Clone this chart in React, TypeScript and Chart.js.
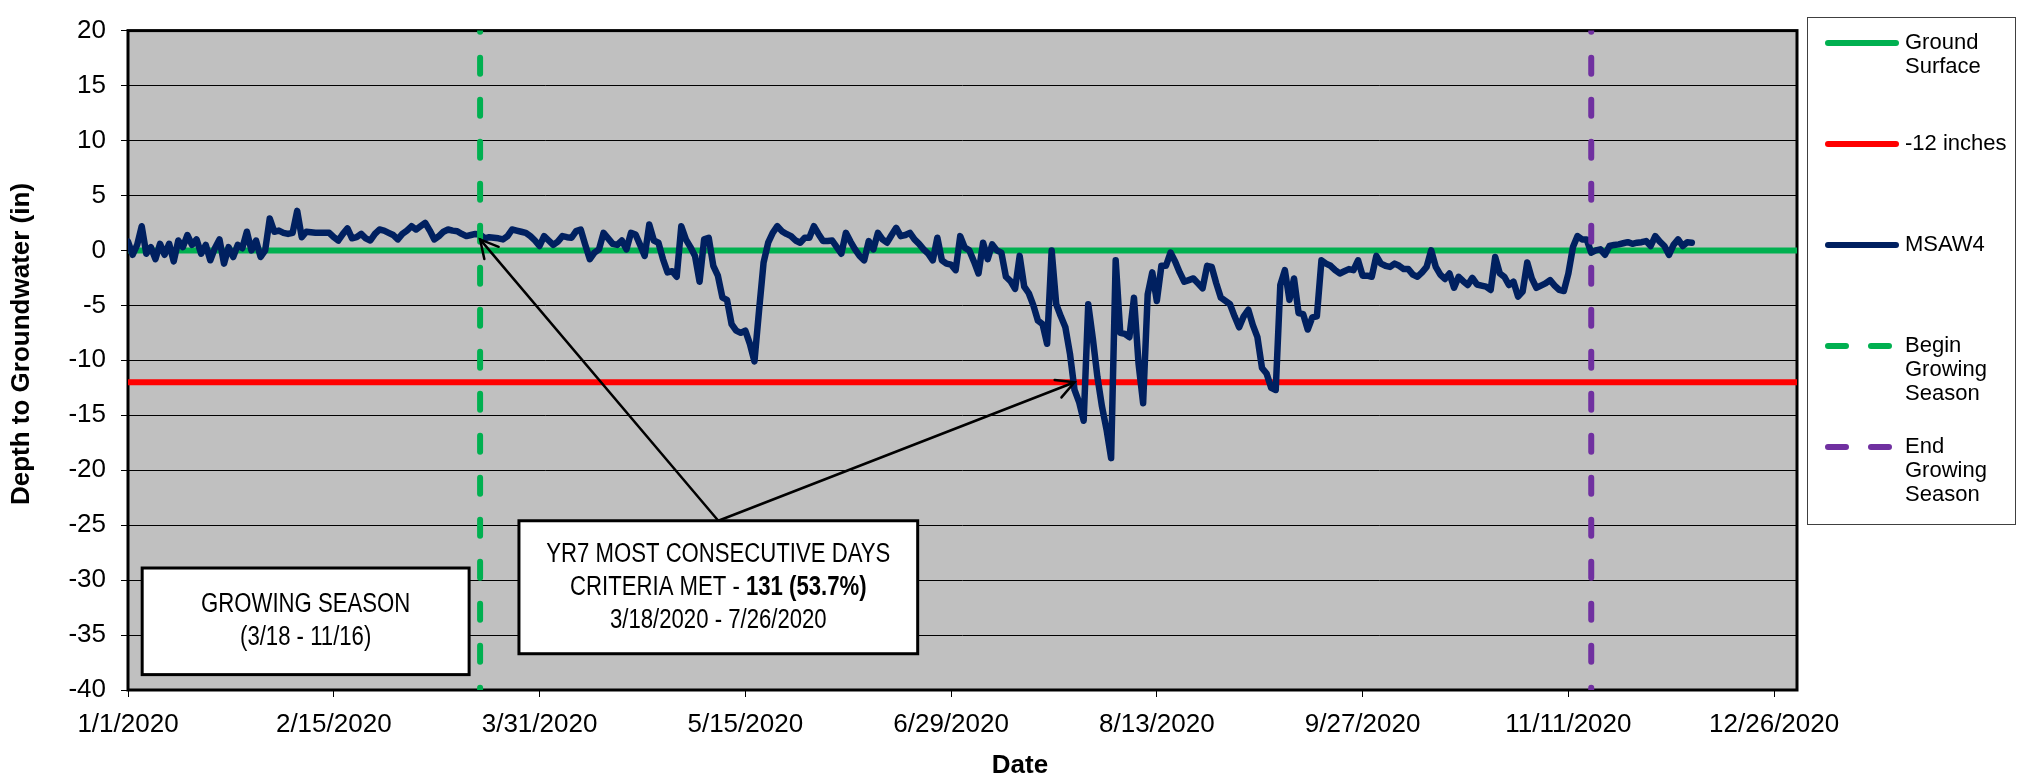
import React, { useEffect, useRef } from "react";
import { Chart, registerables } from "chart.js";

Chart.register(...registerables);

// ---------- data ----------
const xTickLabels = [
  "1/1/2020", "2/15/2020", "3/31/2020", "5/15/2020", "6/29/2020",
  "8/13/2020", "9/27/2020", "11/11/2020", "12/26/2020",
];
const xAxisStart = "1/1/2020";
const xAxisEnd = "12/31/2020";
const yMin = -40;
const yMax = 20;
const yStep = 5;

const groundSurface = 0;
const criteriaDepth = -12;
const growingSeasonBegin = "3/18/2020";
const growingSeasonEnd = "11/16/2020";

// MSAW4 daily depth to groundwater (in), starting 1/1/2020
const msawStart = "1/1/2020";
const msawValues = [
  0.8, -0.4, 0.5, 2.2, -0.3, 0.3, -0.8, 0.6, -0.4, 0.6,
  -1.0, 0.9, 0.3, 1.4, 0.5, 1.0, -0.3, 0.5, -0.9, 0.2,
  1.0, -1.2, 0.3, -0.6, 0.5, 0.2, 1.7, 0.0, 0.9, -0.6,
  0.0, 2.9, 1.7, 1.8, 1.6, 1.5, 1.6, 3.6, 1.2, 1.7,
  1.65, 1.6, 1.6, 1.6, 1.6, 1.2, 0.9, 1.5, 2.0, 1.1,
  1.2, 1.5, 1.1, 0.9, 1.5, 1.9, 1.8, 1.6, 1.4, 1.0,
  1.5, 1.8, 2.2, 1.9, 2.2, 2.5, 1.8, 1.0, 1.3, 1.7,
  1.9, 1.8, 1.75, 1.5, 1.3, 1.4, 1.5, 1.45, 1.1, 1.2,
  1.15, 1.1, 1.0, 1.3, 1.9, 1.8, 1.7, 1.6, 1.3, 0.9,
  0.4, 1.3, 0.9, 0.5, 0.8, 1.3, 1.2, 1.15, 1.75, 1.9,
  0.5, -0.8, -0.2, 0.1, 1.6, 1.1, 0.6, 0.5, 0.9, 0.1,
  1.6, 1.45, 0.5, -0.5, 2.35, 0.9, 0.7, -0.8, -2.0, -1.9,
  -2.4, 2.2, 1.0, 0.3, -0.5, -2.85, 1.0, 1.15, -1.4, -2.3,
  -4.3, -4.5, -6.7, -7.3, -7.5, -7.3, -8.5, -10.1, -5.5, -1.1,
  0.7, 1.6, 2.2, 1.75, 1.5, 1.3, 0.9, 0.7, 1.15, 1.15,
  2.2, 1.5, 0.85, 0.85, 0.9, 0.3, -0.3, 1.6, 0.8, 0.1,
  -0.5, -0.9, 0.85, 0.1, 1.6, 1.0, 0.7, 1.4, 2.05, 1.3,
  1.4, 1.6, 1.0, 0.6, 0.1, -0.3, -0.9, 1.15, -0.9, -1.2,
  -1.3, -1.8, 1.3, 0.25, 0.0, -1.0, -2.1, 0.7, -0.8, 0.55,
  0.0, -0.2, -2.4, -2.8, -3.5, -0.5, -3.3, -3.9, -5.0, -6.4,
  -6.7, -8.5, 0.0, -4.9, -6.0, -7.0, -9.4, -12.7, -13.8, -15.5,
  -4.9, -8.0, -11.5, -14.2, -16.3, -18.9, -0.9, -7.5, -7.6, -7.9,
  -4.3, -10.3, -13.9, -4.0, -2.0, -4.6, -1.4, -1.4, -0.2, -1.0,
  -2.0, -2.85, -2.7, -2.55, -3.0, -3.45, -1.4, -1.5, -3.0, -4.3,
  -4.6, -4.9, -6.0, -7.0, -6.0, -5.4, -6.8, -7.9, -10.7, -11.2,
  -12.5, -12.7, -3.15, -1.8, -4.5, -2.55, -5.7, -5.8, -7.2, -6.1,
  -6.0, -0.9, -1.2, -1.4, -1.8, -2.1, -1.9, -1.7, -1.8, -0.9,
  -2.3, -2.3, -2.4, -0.5, -1.2, -1.4, -1.5, -1.2, -1.4, -1.7,
  -1.7, -2.2, -2.4, -2.0, -1.5, 0.0, -1.5, -2.2, -2.6, -2.1,
  -3.4, -2.4, -2.8, -3.15, -2.5, -3.1, -3.2, -3.3, -3.6, -0.6,
  -2.1, -2.4, -3.15, -2.85, -4.2, -3.75, -1.1, -2.55, -3.4, -3.2,
  -3.0, -2.7, -3.2, -3.6, -3.7, -2.1, 0.3, 1.3, 1.0, 1.0,
  -0.2, 0.0, 0.1, -0.4, 0.4, 0.5, 0.55, 0.65, 0.75, 0.6,
  0.7, 0.75, 0.85, 0.4, 1.3, 0.8, 0.4, -0.4, 0.5, 1.0,
  0.4, 0.75, 0.7,
];

const seriesLabels = ["Ground Surface", "-12 inches", "MSAW4", "Begin Growing Season", "End Growing Season"];
const legendLines = [["Ground", "Surface"], ["-12 inches"], ["MSAW4"], ["Begin", "Growing", "Season"], ["End", "Growing", "Season"]];

const box1Lines = ["GROWING SEASON", "(3/18 - 11/16)"];
const box2Line1 = "YR7 MOST CONSECUTIVE DAYS";
const box2Line2Normal = "CRITERIA MET - ";
const box2Line2Bold = "131 (53.7%)";
const box2Line3 = "3/18/2020 - 7/26/2020";
const arrowTargets: [string, number][] = [["3/18/2020", 1.0], ["7/26/2020", -12]];

const yTitle = "Depth to Groundwater (in)";
const xTitle = "Date";

// ---------- styling / layout ----------
const GREEN = "#00B050";
const RED = "#FF0000";
const NAVY = "#002060";
const PURPLE = "#7030A0";
const PLOT_BG = "#C0C0C0";
const FONT = 'Arial, "Liberation Sans", sans-serif';

// annotation box extents in (day, value) space
const box1Pos = { x0: 3.1, x1: 74.6, y0: -28.9, y1: -38.6 };
const box2Pos = { x0: 85.5, x1: 172.7, y0: -24.6, y1: -36.7 };

function dayOf(s: string): number {
  const [m, d, y] = s.split("/").map(Number);
  return (Date.UTC(y, m - 1, d) - Date.UTC(2020, 0, 1)) / 86400000;
}

const xMinDay = dayOf(xAxisStart);
const xMaxDay = dayOf(xAxisEnd);
const xTickDays = xTickLabels.map(dayOf);
const msawStartDay = dayOf(msawStart);
const beginDay = dayOf(growingSeasonBegin);
const endDay = dayOf(growingSeasonEnd);

function fontAvailable(ctx: CanvasRenderingContext2D, family: string) {
  const sample = "GROWING SEASON wmil 0123";
  ctx.font = "40px monospace";
  const a = ctx.measureText(sample).width;
  ctx.font = `40px "${family}", monospace`;
  const b = ctx.measureText(sample).width;
  return Math.abs(a - b) > 0.5;
}

const decorPlugin = {
  id: "decor",
  beforeDraw(chart: any) {
    const { ctx, chartArea: a } = chart;
    ctx.save();
    ctx.fillStyle = "#FFFFFF";
    ctx.fillRect(0, 0, chart.width, chart.height);
    ctx.fillStyle = PLOT_BG;
    ctx.fillRect(a.left, a.top, a.right - a.left, a.bottom - a.top);
    ctx.restore();
  },
  beforeDatasetsDraw(chart: any) {
    const { ctx, chartArea: a } = chart;
    ctx.save();
    ctx.strokeStyle = "#000";
    ctx.lineWidth = 3;
    ctx.strokeRect(a.left, a.top, a.right - a.left, a.bottom - a.top);
    ctx.restore();
  },
  afterDraw(chart: any) {
    const { ctx } = chart;
    const xs = chart.scales.x;
    const ys = chart.scales.y;
    const px = (d: number) => xs.getPixelForValue(d);
    const py = (v: number) => ys.getPixelForValue(v);

    // ---- arrows ----
    const ox = px((box2Pos.x0 + box2Pos.x1) / 2);
    const oy = py(box2Pos.y0);
    ctx.save();
    ctx.strokeStyle = "#000";
    ctx.lineWidth = 2.5;
    ctx.lineCap = "round";
    for (const [dStr, val] of arrowTargets) {
      const tx = px(dayOf(dStr));
      const ty = py(val);
      ctx.beginPath();
      ctx.moveTo(ox, oy);
      ctx.lineTo(tx, ty);
      ctx.stroke();
      const ang = Math.atan2(oy - ty, ox - tx);
      const len = 20;
      const spread = (28 * Math.PI) / 180;
      ctx.beginPath();
      ctx.moveTo(tx + len * Math.cos(ang + spread), ty + len * Math.sin(ang + spread));
      ctx.lineTo(tx, ty);
      ctx.lineTo(tx + len * Math.cos(ang - spread), ty + len * Math.sin(ang - spread));
      ctx.stroke();
    }
    ctx.restore();

    // ---- annotation boxes ----
    const narrow = fontAvailable(ctx, "Liberation Sans Narrow");
    const boxFamily = narrow ? '"Liberation Sans Narrow", "Liberation Sans", sans-serif' : FONT;
    const sx = narrow ? 1 : 0.82;
    const drawBox = (p: any) => {
      const l = px(p.x0), r = px(p.x1), t = py(p.y0), b = py(p.y1);
      ctx.save();
      ctx.fillStyle = "#FFFFFF";
      ctx.fillRect(l, t, r - l, b - t);
      ctx.strokeStyle = "#000";
      ctx.lineWidth = 3;
      ctx.strokeRect(l, t, r - l, b - t);
      ctx.restore();
      return { l, r, t, b, cx: (l + r) / 2, cy: (t + b) / 2 };
    };
    const drawCentered = (parts: [string, boolean][], cx: number, cy: number) => {
      ctx.save();
      ctx.translate(cx, cy);
      ctx.scale(sx, 1);
      ctx.textBaseline = "middle";
      ctx.textAlign = "left";
      ctx.fillStyle = "#000";
      let total = 0;
      const widths = parts.map(([txt, bold]) => {
        ctx.font = `${bold ? "bold " : ""}27px ${boxFamily}`;
        const w = ctx.measureText(txt).width;
        total += w;
        return w;
      });
      let x = -total / 2;
      parts.forEach(([txt, bold], i) => {
        ctx.font = `${bold ? "bold " : ""}27px ${boxFamily}`;
        ctx.fillText(txt, x, 0);
        x += widths[i];
      });
      ctx.restore();
    };
    const b1 = drawBox(box1Pos);
    const lh = 33;
    box1Lines.forEach((ln, i) => drawCentered([[ln, false]], b1.cx, b1.cy + (i - (box1Lines.length - 1) / 2) * lh));
    const b2 = drawBox(box2Pos);
    drawCentered([[box2Line1, false]], b2.cx, b2.cy - lh);
    drawCentered([[box2Line2Normal, false], [box2Line2Bold, true]], b2.cx, b2.cy);
    drawCentered([[box2Line3, false]], b2.cx, b2.cy + lh);

    // ---- legend ----
    const lg = { l: 1807, t: 17, r: 2015, b: 524 };
    ctx.save();
    ctx.fillStyle = "#FFFFFF";
    ctx.fillRect(lg.l, lg.t, lg.r - lg.l, lg.b - lg.t);
    ctx.strokeStyle = "#404040";
    ctx.lineWidth = 1;
    ctx.strokeRect(lg.l + 0.5, lg.t + 0.5, lg.r - lg.l, lg.b - lg.t);
    const colors = [GREEN, RED, NAVY, GREEN, PURPLE];
    const dashed = [false, false, false, true, true];
    legendLines.forEach((lines, i) => {
      const y = lg.t + 26 + i * 101;
      ctx.strokeStyle = colors[i];
      ctx.lineWidth = 6;
      ctx.lineCap = "round";
      if (dashed[i]) {
        ctx.beginPath();
        ctx.moveTo(1828, y);
        ctx.lineTo(1846, y);
        ctx.moveTo(1871, y);
        ctx.lineTo(1889, y);
        ctx.stroke();
      } else {
        ctx.beginPath();
        ctx.moveTo(1828, y);
        ctx.lineTo(1896, y);
        ctx.stroke();
      }
      ctx.fillStyle = "#000";
      ctx.font = `22px ${FONT}`;
      ctx.textAlign = "left";
      ctx.textBaseline = "middle";
      lines.forEach((t, j) => ctx.fillText(t, 1905, y + j * 24));
    });
    ctx.restore();

    // ---- axis titles ----
    ctx.save();
    ctx.fillStyle = "#000";
    ctx.font = `bold 26px ${FONT}`;
    ctx.textAlign = "center";
    ctx.textBaseline = "middle";
    ctx.fillText(xTitle, 1020, 766);
    ctx.translate(22, 344);
    ctx.rotate(-Math.PI / 2);
    ctx.fillText(yTitle, 0, 0);
    ctx.restore();
  },
};

export default function App() {
  const ref = useRef<HTMLCanvasElement | null>(null);

  useEffect(() => {
    if (!ref.current) return;
    Chart.defaults.font.family = FONT;
    const lineBase = { pointRadius: 0, borderWidth: 6, fill: false, tension: 0 };
    const chart = new Chart(ref.current, {
      type: "line",
      data: {
        datasets: [
          {
            ...lineBase,
            label: seriesLabels[0],
            data: [{ x: xMinDay, y: groundSurface }, { x: xMaxDay, y: groundSurface }],
            borderColor: GREEN,
            order: 4,
          },
          {
            ...lineBase,
            label: seriesLabels[1],
            data: [{ x: xMinDay, y: criteriaDepth }, { x: xMaxDay, y: criteriaDepth }],
            borderColor: RED,
            order: 3,
          },
          {
            ...lineBase,
            label: seriesLabels[2],
            data: msawValues.map((v, i) => ({ x: msawStartDay + i, y: v })),
            borderColor: NAVY,
            borderWidth: 6.5,
            borderJoinStyle: "round",
            borderCapStyle: "round",
            order: 2,
          },
          {
            ...lineBase,
            label: seriesLabels[3],
            data: [{ x: beginDay, y: yMax }, { x: beginDay, y: yMin }],
            borderColor: GREEN,
            borderDash: [16, 26],
            borderDashOffset: 14.8,
            borderCapStyle: "round",
            order: 1,
          },
          {
            ...lineBase,
            label: seriesLabels[4],
            data: [{ x: endDay, y: yMax }, { x: endDay, y: yMin }],
            borderColor: PURPLE,
            borderDash: [16, 26],
            borderDashOffset: 14.8,
            borderCapStyle: "round",
            order: 1,
          },
        ] as any,
      },
      options: {
        responsive: false,
        animation: false,
        events: [],
        layout: { padding: { left: 0, top: 17, right: 228, bottom: 0 } },
        plugins: {
          legend: { display: false },
          tooltip: { enabled: false },
          title: { display: false },
        },
        scales: {
          x: {
            type: "linear",
            min: xMinDay,
            max: xMaxDay,
            afterBuildTicks: (s: any) => {
              s.ticks = xTickDays.map((v) => ({ value: v }));
            },
            afterFit: (s: any) => {
              s.height = 93;
            },
            ticks: {
              color: "#000",
              font: { size: 26 },
              padding: 12,
              maxRotation: 0,
              autoSkip: false,
              callback: (_v: any, i: number) => xTickLabels[i],
            },
            grid: {
              drawOnChartArea: false,
              drawTicks: true,
              tickLength: 7,
              color: "#000",
              tickColor: "#000",
              lineWidth: 1,
            },
            border: { display: false },
          },
          y: {
            type: "linear",
            min: yMin,
            max: yMax,
            afterFit: (s: any) => {
              s.width = 128;
            },
            ticks: {
              stepSize: yStep,
              color: "#000",
              font: { size: 26 },
              padding: 15,
            },
            grid: {
              color: "#000",
              tickColor: "#000",
              lineWidth: 1,
              tickLength: 7,
              drawTicks: true,
            },
            border: { display: false },
          },
        },
      } as any,
      plugins: [decorPlugin],
    });
    return () => chart.destroy();
  }, []);

  return (
    <div style={{ position: "absolute", left: 0, top: 0, width: 2025, height: 783 }}>
      <canvas ref={ref} width={2025} height={783} style={{ display: "block" }} />
    </div>
  );
}
